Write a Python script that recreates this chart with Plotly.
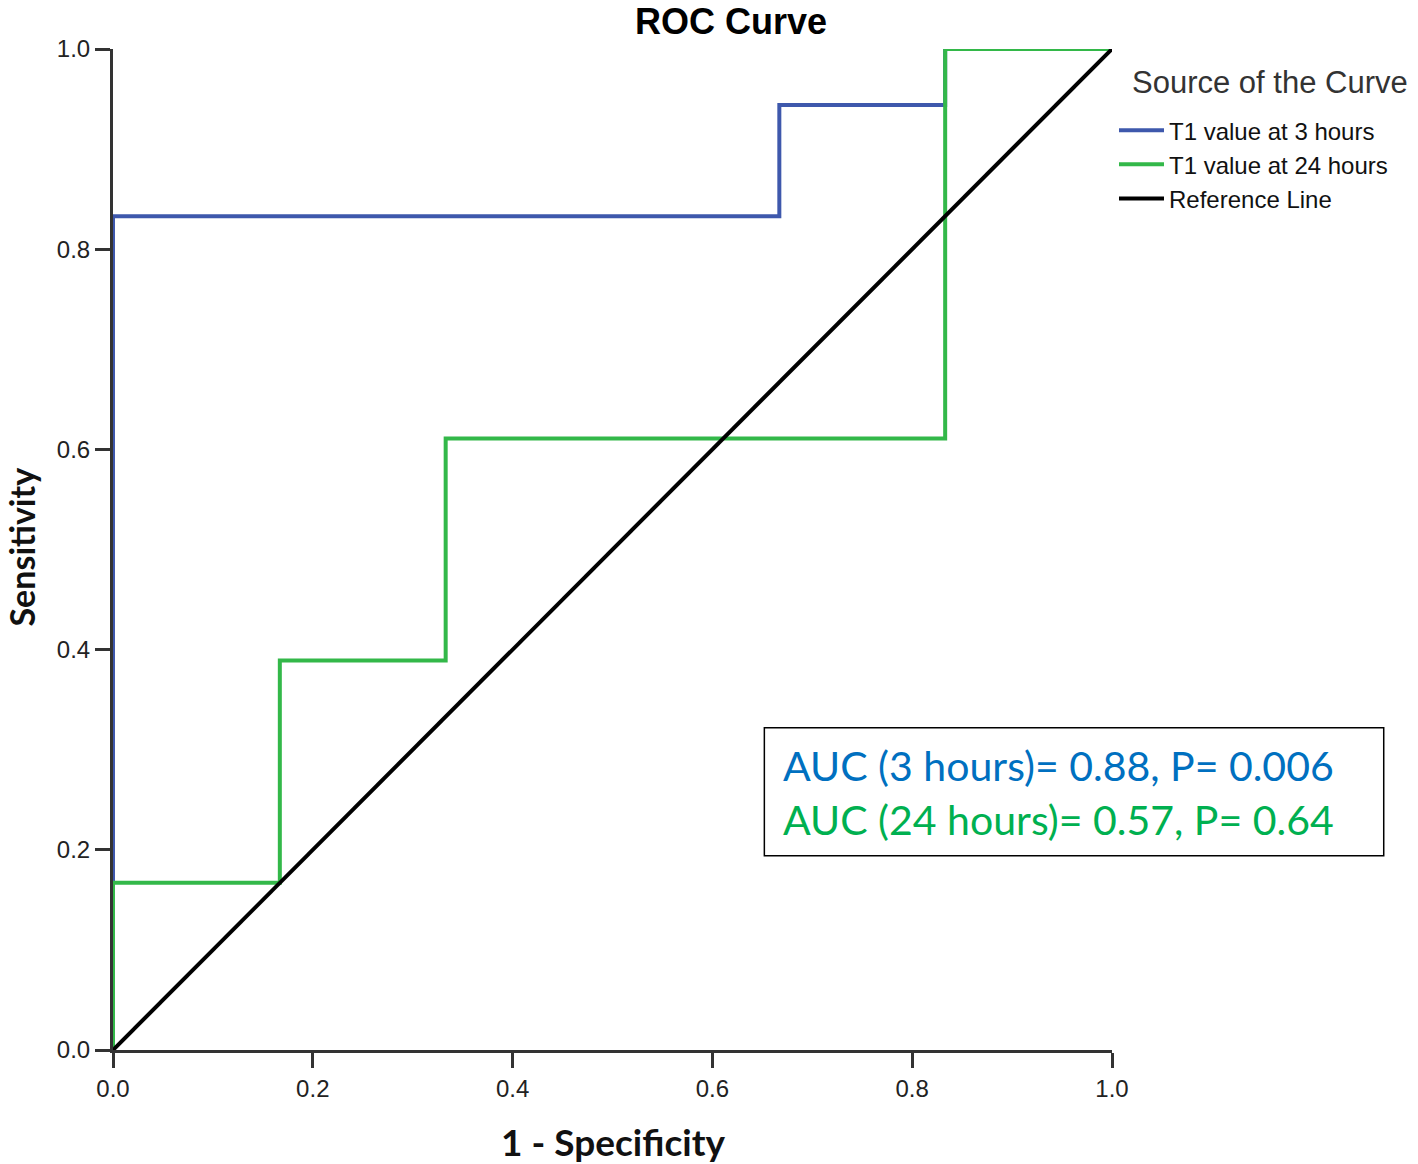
import plotly.graph_objects as go

# ROC step curves (1 - specificity, sensitivity)
fpr_3h = [0.0, 0.0, 0.667, 0.667, 0.833, 0.833, 1.0]
tpr_3h = [0.0, 0.833, 0.833, 0.944, 0.944, 1.0, 1.0]
fpr_24h = [0.0, 0.0, 0.167, 0.167, 0.333, 0.333, 0.833, 0.833, 1.0]
tpr_24h = [0.0, 0.167, 0.167, 0.389, 0.389, 0.611, 0.611, 1.0, 1.0]
ref_x = [0.0, 1.0]
ref_y = [0.0, 1.0]
tick_vals = [0.0, 0.2, 0.4, 0.6, 0.8, 1.0]
tick_text = ["0.0", "0.2", "0.4", "0.6", "0.8", "1.0"]

names = ["T1 value at 3 hours", "T1 value at 24 hours", "Reference Line"]
legend_title = "Source of the Curve"
auc_lines = ["AUC (3 hours)= 0.88, P= 0.006", "AUC (24 hours)= 0.57, P= 0.64"]

BLUE = "#3E58AC"
GREEN = "#33B849"

fig = go.Figure()
fig.add_trace(go.Scatter(x=fpr_3h, y=tpr_3h, mode="lines", name=names[0],
                         line=dict(color=BLUE, width=4)))
fig.add_trace(go.Scatter(x=fpr_24h, y=tpr_24h, mode="lines", name=names[1],
                         line=dict(color=GREEN, width=4)))
fig.add_trace(go.Scatter(x=ref_x, y=ref_y, mode="lines", name=names[2],
                         line=dict(color="black", width=4)))

axis_common = dict(
    range=[0, 1], tickvals=tick_vals, ticktext=tick_text,
    showgrid=False, zeroline=False, showline=True, linecolor="#333333", linewidth=3,
    ticks="outside", tickcolor="#333333", tickwidth=3, ticklen=15,
    tickfont=dict(family="Liberation Sans, Arial", size=24, color="#222222"),
    layer="below traces", fixedrange=True,
)
fig.update_xaxes(**axis_common)
fig.update_yaxes(**axis_common)

fig.update_layout(
    width=1418, height=1164,
    margin=dict(l=113, r=306, t=49, b=114),
    plot_bgcolor="white", paper_bgcolor="white",
    showlegend=True,
    legend=dict(
        x=1.002, y=0.941, xanchor="left", yanchor="top",
        bgcolor="rgba(0,0,0,0)",
        font=dict(family="Liberation Sans, Arial", size=24, color="#111111"),
        itemwidth=45,
        tracegroupgap=0,
    ),
)

# Legend title
fig.add_annotation(text=legend_title, xref="paper", yref="paper",
                   x=1.018, y=0.967, xanchor="left", yanchor="middle", showarrow=False,
                   font=dict(family="Liberation Sans, Arial", size=31, color="#333333"))
# Title
fig.add_annotation(text="<b>ROC Curve</b>", xref="paper", yref="paper",
                   x=0.6186, y=1.027, xanchor="center", yanchor="middle", showarrow=False,
                   font=dict(family="Liberation Sans, Arial", size=36, color="black"))
# Axis titles
fig.add_annotation(text="<b>1 - Specificity</b>", xref="paper", yref="paper",
                   x=0.5, y=-0.091, xanchor="center", yanchor="middle", showarrow=False,
                   font=dict(family="Lato, Carlito, sans-serif", size=37, color="#111111"))
fig.add_annotation(text="<b>Sensitivity</b>", xref="paper", yref="paper",
                   x=-0.0911, y=0.503, xanchor="center", yanchor="middle", showarrow=False,
                   textangle=-90,
                   font=dict(family="Lato, Carlito, sans-serif", size=34, color="#111111"))

# AUC box
fig.add_shape(type="rect", xref="paper", yref="paper",
              x0=0.652, x1=1.272, y0=0.194, y1=0.322,
              line=dict(color="black", width=1.5), fillcolor="white", layer="above")
fig.add_annotation(text=auc_lines[0], xref="paper", yref="paper",
                   x=0.6687, y=0.2847, xanchor="left", yanchor="middle", showarrow=False,
                   font=dict(family="Lato, Carlito, sans-serif", size=41, color="#0070C0"))
fig.add_annotation(text=auc_lines[1], xref="paper", yref="paper",
                   x=0.6687, y=0.2298, xanchor="left", yanchor="middle", showarrow=False,
                   font=dict(family="Lato, Carlito, sans-serif", size=41, color="#00B050"))

fig.write_html("out.html", config={"displayModeBar": False},
               post_script="document.body.style.margin='0';document.body.style.overflow='hidden';")
